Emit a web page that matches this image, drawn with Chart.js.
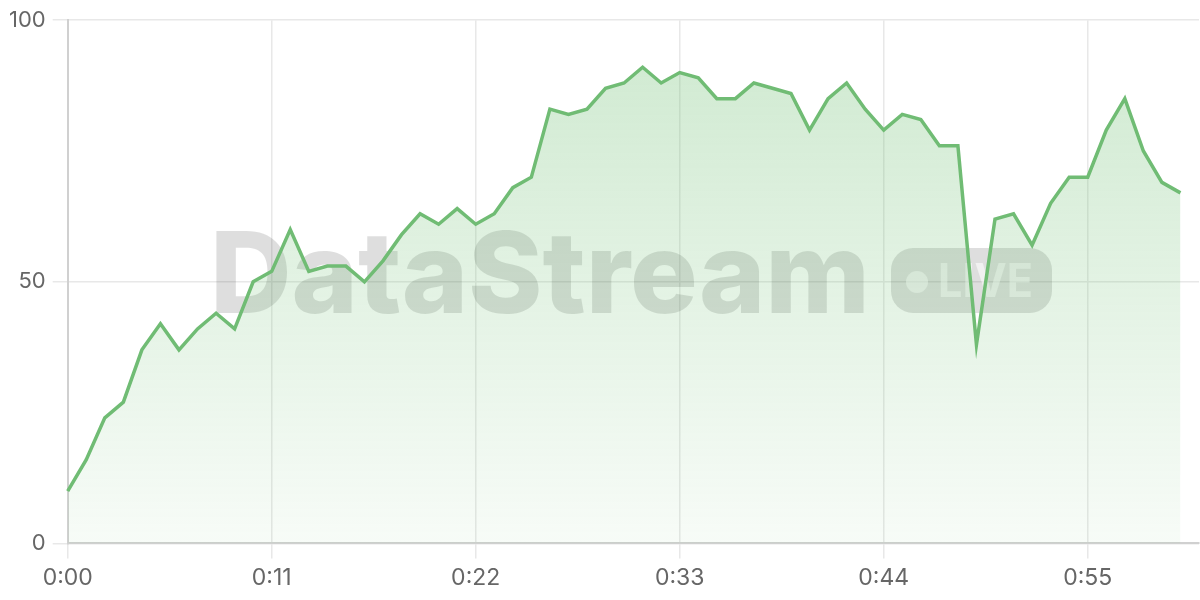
<!DOCTYPE html>
<html>
<head>
<meta charset="utf-8">
<script src="https://cdn.jsdelivr.net/npm/chart.js@4/dist/chart.umd.min.js"></script>
<style>
  html, body { margin: 0; padding: 0; background: #fff; }
  #wrap { width: 1200px; height: 600px; position: relative; }
</style>
</head>
<body>
<div id="wrap"><canvas id="c"></canvas></div>
<script>
// ---- data ----
const seconds = [];
for (let s = 0; s <= 61; s++) seconds.push(s);
const timeLabels = seconds.map(s => Math.floor(s / 60) + ':' + String(s % 60).padStart(2, '0'));
const values = [
  10, 16, 24, 27, 37, 42, 37, 41, 44, 41,
  50, 52, 60, 52, 53, 53, 50, 54, 59, 63,
  61, 64, 61, 63, 68, 70, 83, 82, 83, 87,
  88, 91, 88, 90, 89, 85, 85, 88, 87, 86,
  79, 85, 88, 83, 79, 82, 81, 76, 76, 38,
  62, 63, 57, 65, 70, 70, 79, 85, 75, 69,
  67
];
const shownTickSeconds = [0, 11, 22, 33, 44, 55];
const yTicks = [0, 50, 100];
const watermarkText = 'DataStream';
const badgeText = 'LIVE';

const FONT = 'Inter, "Noto Sans", sans-serif';

const watermark = {
  id: 'watermark',
  beforeDatasetsDraw(chart) {
    const ctx = chart.ctx;
    ctx.save();
    ctx.fillStyle = 'rgba(0,0,0,0.13)';
    ctx.textBaseline = 'alphabetic';
    ctx.textAlign = 'left';
    ctx.font = '800 116px ' + FONT;
    const w = ctx.measureText(watermarkText).width;
    const target = 660;
    const size = 116 * target / w;
    ctx.font = '800 ' + size.toFixed(1) + 'px ' + FONT;
    ctx.fillText(watermarkText, 210, 313);
    // badge
    const bx = 891, by = 248, bw = 161, bh = 65, r = 22;
    ctx.beginPath();
    ctx.roundRect(bx, by, bw, bh, r);
    ctx.fill();
    ctx.fillStyle = 'rgba(255,255,255,0.55)';
    ctx.beginPath();
    ctx.arc(917, 282, 11, 0, Math.PI * 2);
    ctx.fill();
    ctx.font = '700 46px ' + FONT;
    const lw = ctx.measureText(badgeText).width;
    ctx.save();
    ctx.translate(938, 297);
    ctx.scale(95 / lw, 1);
    ctx.fillText(badgeText, 0, 0);
    ctx.restore();
    ctx.restore();
  }
};

const ctx = document.getElementById('c');
new Chart(ctx, {
  type: 'line',
  data: {
    labels: timeLabels,
    datasets: [{
      data: values,
      borderColor: 'rgb(112,188,116)',
      borderWidth: 3.5,
      pointRadius: 0,
      tension: 0,
      fill: 'origin',
      backgroundColor: (c) => {
        const area = c.chart.chartArea;
        if (!area) return 'rgba(102,187,106,0.2)';
        const g = c.chart.ctx.createLinearGradient(0, area.top, 0, area.bottom);
        g.addColorStop(0, 'rgba(102,187,106,0.32)');
        g.addColorStop(1, 'rgba(102,187,106,0.05)');
        return g;
      }
    }]
  },
  options: {
    responsive: true,
    maintainAspectRatio: false,
    animation: false,
    layout: { padding: { top: 10, left: 2, right: 1, bottom: 2 } },
    plugins: { legend: { display: false }, tooltip: { enabled: false } },
    scales: {
      x: {
        type: 'category',
        offset: false,
        grid: { color: '#e8e8e8', lineWidth: 1.5, tickLength: 15 },
        border: { color: '#d0d0d0', width: 2 },
        ticks: {
          autoSkip: false,
          maxRotation: 0,
          padding: 6,
          color: '#666',
          font: { family: FONT, size: 23 },
          callback: function(value, index) {
            return shownTickSeconds.includes(seconds[index]) ? timeLabels[index] : null;
          }
        }
      },
      y: {
        min: 0,
        max: 100,
        grid: { color: '#e8e8e8', lineWidth: 1.5, tickLength: 15 },
        border: { color: '#d0d0d0', width: 2 },
        afterBuildTicks: (axis) => { axis.ticks = yTicks.map(v => ({ value: v })); },
        ticks: {
          padding: 7,
          color: '#666',
          font: { family: FONT, size: 22 }
        }
      }
    }
  },
  plugins: [watermark]
});
</script>
</body>
</html>
